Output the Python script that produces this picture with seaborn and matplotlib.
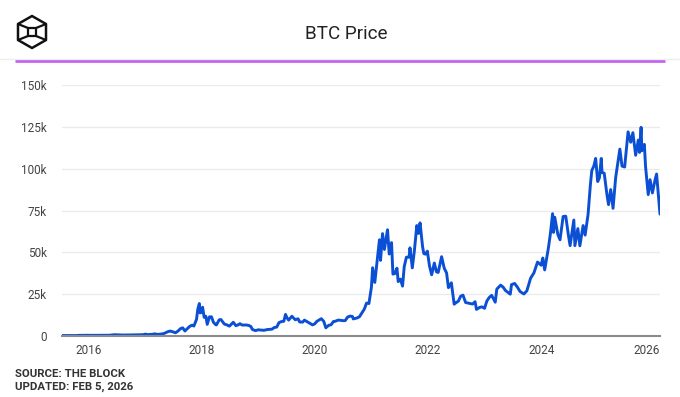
import matplotlib.pyplot as plt
import matplotlib.ticker as mticker
import matplotlib.transforms as mtransforms
import pandas as pd
import seaborn as sns
from matplotlib.patches import Polygon, Rectangle

# BTC price (USD)
dates = [
    "2015-07-15", "2015-08-15", "2015-09-15", "2015-10-15", "2015-11-05", "2015-11-30", "2015-12-20",
    "2016-01-15", "2016-02-15", "2016-03-15", "2016-04-15", "2016-05-15", "2016-06-17", "2016-07-15",
    "2016-08-15", "2016-09-15", "2016-10-15", "2016-11-15", "2016-12-20",
    "2017-01-04", "2017-01-15", "2017-02-15", "2017-03-05", "2017-03-25", "2017-04-15", "2017-05-01",
    "2017-05-25", "2017-06-11", "2017-06-30", "2017-07-16", "2017-07-31", "2017-08-17", "2017-09-01",
    "2017-09-15", "2017-09-30", "2017-10-15", "2017-10-31", "2017-11-12", "2017-11-29", "2017-12-07",
    "2017-12-17", "2017-12-22", "2017-12-31",
    "2018-01-07", "2018-01-17", "2018-01-28", "2018-02-06", "2018-02-20", "2018-03-05", "2018-03-18",
    "2018-03-31", "2018-04-06", "2018-04-24", "2018-05-05", "2018-05-28", "2018-06-10", "2018-06-29",
    "2018-07-24", "2018-08-10", "2018-08-25", "2018-09-05", "2018-09-20", "2018-10-15", "2018-10-31",
    "2018-11-14", "2018-11-25", "2018-12-15", "2018-12-31",
    "2019-01-15", "2019-02-07", "2019-02-28", "2019-03-31", "2019-04-15", "2019-04-30", "2019-05-15",
    "2019-05-30", "2019-06-15", "2019-06-26", "2019-07-05", "2019-07-16", "2019-08-06", "2019-08-28",
    "2019-09-15", "2019-09-25", "2019-10-15", "2019-10-26", "2019-11-20", "2019-12-17", "2019-12-31",
    "2020-01-15", "2020-02-12", "2020-02-28", "2020-03-12", "2020-03-31", "2020-04-15", "2020-04-30",
    "2020-05-10", "2020-05-31", "2020-06-15", "2020-06-30", "2020-07-15", "2020-07-31", "2020-08-16",
    "2020-08-31", "2020-09-05", "2020-09-30", "2020-10-15", "2020-10-31", "2020-11-15", "2020-11-30",
    "2020-12-15", "2020-12-31",
    "2021-01-08", "2021-01-22", "2021-02-08", "2021-02-21", "2021-02-28", "2021-03-13", "2021-03-25",
    "2021-04-14", "2021-04-25", "2021-05-10", "2021-05-19", "2021-05-31", "2021-06-14", "2021-06-22",
    "2021-07-06", "2021-07-20", "2021-07-31", "2021-08-14", "2021-08-31", "2021-09-06", "2021-09-21",
    "2021-10-05", "2021-10-20", "2021-10-31", "2021-11-10", "2021-11-26", "2021-12-04", "2021-12-15",
    "2021-12-27",
    "2022-01-10", "2022-01-24", "2022-02-10", "2022-02-24", "2022-03-07", "2022-03-29", "2022-04-15",
    "2022-04-30", "2022-05-12", "2022-05-31", "2022-06-18", "2022-06-30", "2022-07-15", "2022-07-30",
    "2022-08-14", "2022-08-31", "2022-09-15", "2022-09-30", "2022-10-15", "2022-10-31", "2022-11-09",
    "2022-11-30", "2022-12-15", "2022-12-31",
    "2023-01-15", "2023-01-31", "2023-02-15", "2023-03-10", "2023-03-20", "2023-04-14", "2023-04-30",
    "2023-05-15", "2023-06-15", "2023-06-23", "2023-07-13", "2023-07-31", "2023-08-17", "2023-09-11",
    "2023-09-30", "2023-10-24", "2023-11-15", "2023-12-08", "2023-12-31",
    "2024-01-11", "2024-01-23", "2024-02-15", "2024-02-29", "2024-03-14", "2024-03-20", "2024-03-28",
    "2024-04-17", "2024-05-01", "2024-05-21", "2024-06-07", "2024-06-24", "2024-07-05", "2024-07-29",
    "2024-08-05", "2024-08-24", "2024-09-06", "2024-09-27", "2024-10-10", "2024-10-29", "2024-11-13",
    "2024-11-22", "2024-12-05", "2024-12-17", "2024-12-30",
    "2025-01-10", "2025-01-22", "2025-01-27", "2025-02-10", "2025-02-28", "2025-03-10", "2025-03-24",
    "2025-04-08", "2025-04-25", "2025-05-10", "2025-05-22", "2025-06-05", "2025-06-22", "2025-07-14",
    "2025-07-31", "2025-08-14", "2025-09-01", "2025-09-18", "2025-09-26", "2025-10-06", "2025-10-11",
    "2025-10-27", "2025-11-04", "2025-11-21", "2025-12-03", "2025-12-18",
    "2026-01-05", "2026-01-14", "2026-01-31", "2026-02-05",
]
prices = [
    285, 260, 230, 255, 400, 378, 440,
    390, 405, 415, 430, 455, 760, 660,
    570, 605, 640, 710, 790,
    1135, 820, 1010, 1270, 930, 1180, 1420,
    2450, 2960, 2480, 1930, 2850, 4360, 4890,
    3000, 4340, 5690, 6470, 5950, 10000, 16000,
    19400, 13800, 14150,
    17200, 11200, 11800, 6950, 11400, 11500, 8200,
    6900, 6600, 9650, 9850, 7100, 6750, 5900,
    8200, 6150, 6700, 7350, 6500, 6600, 6350,
    5700, 3850, 3200, 3700,
    3600, 3400, 3850, 4100, 5100, 5300, 8000,
    8600, 8800, 12900, 11000, 9500, 11800, 9700,
    10300, 8400, 8300, 9500, 8100, 6650, 7200,
    8800, 10350, 8700, 4900, 6400, 6700, 8650,
    8750, 9500, 9400, 9150, 9200, 11350, 11900,
    11650, 10200, 10800, 11500, 13800, 16000, 19700,
    19400, 29000,
    40800, 32000, 46400, 57500, 45200, 61200, 51700,
    63500, 49000, 55800, 37000, 37300, 40500, 32500,
    34000, 29800, 41500, 47100, 47100, 52700, 40700,
    51500, 66000, 61300, 67600, 53600, 49300, 48900,
    50700,
    41800, 36600, 43600, 38300, 38000, 47400, 40500,
    37700, 28900, 31800, 19000, 19900, 20800, 23800,
    24400, 20000, 19700, 19400, 19100, 20500, 15900,
    17100, 17400, 16550,
    20900, 23100, 24300, 20200, 28000, 30400, 29200,
    27200, 25000, 30700, 31400, 29200, 26600, 25100,
    27000, 34500, 37800, 44200, 42300,
    46600, 39500, 52000, 61200, 73100, 61900, 71000,
    60600, 57500, 71400, 71600, 60300, 54000, 69300,
    54000, 64200, 53900, 66000, 60300, 72700, 90500,
    98900, 101500, 106100, 92300,
    94500, 106100, 97700, 97300, 84300, 78500, 87500,
    76300, 94700, 104000, 111700, 101500, 101000, 122000,
    115800, 121500, 108000, 117100, 109700, 124700, 110700,
    114500, 101000, 84500, 93400, 85500,
    93700, 96800, 78500, 72800,
]
year_ticks = [2016, 2018, 2020, 2022, 2024, 2026]
price_ticks = [0, 25000, 50000, 75000, 100000, 125000, 150000]
title = "BTC Price"
source = "SOURCE: THE BLOCK"
updated = "UPDATED: FEB 5, 2026"

sns.set_theme(style="white")
plt.rcParams['font.family'] = ['Roboto', 'DejaVu Sans']

df = pd.DataFrame({"date": pd.to_datetime(dates), "price": prices})

W, H = 680, 397
fig = plt.figure(figsize=(W / 100, H / 100), dpi=100)
fig.patch.set_facecolor("white")

# overlay in pixel coords for header / footer / logo
over = fig.add_axes([0, 0, 1, 1])
over.set_xlim(0, W)
over.set_ylim(H, 0)
over.axis("off")
over.plot([0, W], [59, 59], color="#EEEEEE", lw=1)
over.plot([15, 665], [60.5, 60.5], color="#C466F0", lw=2, solid_capstyle="butt")
over.text(346, 34, title, ha="center", va="center", fontsize=13.6, color="#222222")
over.text(15, 374, source, ha="left", va="center", fontsize=8.2, fontweight="bold", color="#333333")
over.text(15, 387, updated, ha="left", va="center", fontsize=8.2, fontweight="bold", color="#333333")

# logo: hexagon with inner square
cx, cy = 32, 32
hexagon = [(cx, 16), (cx + 14, 24), (cx + 14, 40), (cx, 48), (cx - 14, 40), (cx - 14, 24)]
over.add_patch(Polygon(hexagon, closed=True, fill=False, ec="#111111", lw=1.8, joinstyle="round"))
over.add_patch(Rectangle((cx - 4, cy - 4), 8, 8, fill=False, ec="#111111", lw=1.6))
for (x0, y0), (x1, y1) in [((cx - 14, 24), (cx - 4, cy - 4)), ((cx + 14, 24), (cx + 4, cy - 4)),
                           ((cx - 14, 40), (cx - 4, cy + 4)), ((cx + 14, 40), (cx + 4, cy + 4))]:
    over.plot([x0, x1], [y0, y1], color="#111111", lw=1.6)

# main chart
ax = fig.add_axes([62 / W, (H - 336) / H, 598 / W, 251 / H])
sns.lineplot(data=df, x="date", y="price", ax=ax, color="#0B50D4", linewidth=2.1)

ax.set_xlim(pd.Timestamp("2015-07-15"), pd.Timestamp("2026-02-05"))
ax.set_ylim(0, 150000)
ax.set_xticks([pd.Timestamp(f"{y}-01-01") for y in year_ticks])
ax.set_xticklabels([str(y) for y in year_ticks])
ax.set_yticks(price_ticks)
ax.yaxis.set_major_formatter(mticker.FuncFormatter(lambda v, p: "0" if v == 0 else f"{int(v / 1000)}k"))
ax.set_xlabel("")
ax.set_ylabel("")

ax.yaxis.grid(True, color="#EBEBEB", lw=1)
ax.xaxis.grid(False)
for s in ["top", "right", "left"]:
    ax.spines[s].set_visible(False)
ax.spines["bottom"].set_color("#8C8C8C")
ax.spines["bottom"].set_linewidth(1.5)
ax.tick_params(axis="both", length=0, labelsize=8.5, labelcolor="#444444")
ax.tick_params(axis="y", pad=11)
ax.tick_params(axis="x", pad=6)
ax.set_facecolor("none")
ax.set_axisbelow(True)

# last year label is pulled inside the plot edge, as in the original
last = ax.get_xticklabels()[-1]
last.set_transform(last.get_transform() + mtransforms.ScaledTranslation(-8 / 100, 0, fig.dpi_scale_trans))

fig.savefig("out.png", dpi=100, facecolor="white")
